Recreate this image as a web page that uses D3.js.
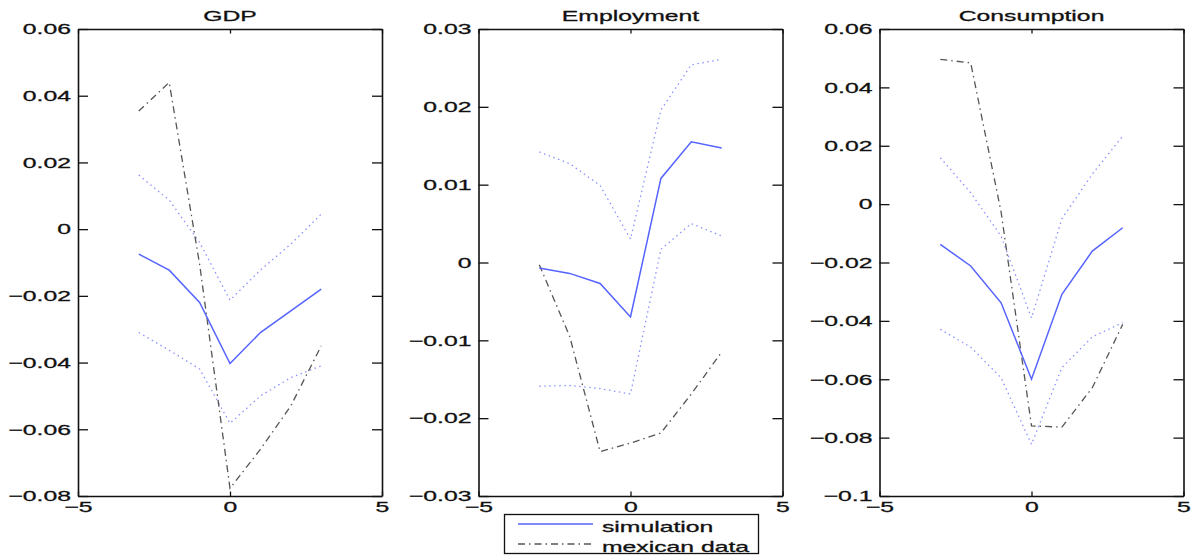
<!DOCTYPE html>
<html>
<head>
<meta charset="utf-8">
<script src="https://cdn.jsdelivr.net/npm/d3@7"></script>
<style>
  body { margin: 0; background: #fff; }
  svg { display: block; }
  text { font-family: "Liberation Sans", Arial, Helvetica, sans-serif; fill: #111; stroke: #111; stroke-width: 0.3px; }
  .axis path, .axis line { stroke: #111; }
</style>
</head>
<body>
<div id="chart"></div>
<script>
// horizon (quarters around the crisis)
const horizon = [-3, -2, -1, 0, 1, 2, 3];
const xTicks = [-5, 0, 5];

// GDP
const gdpSim = [-0.0075, -0.0123, -0.022, -0.0403, -0.031, -0.0245, -0.018];
const gdpUpper = [0.0162, 0.0087, -0.004, -0.0213, -0.0123, -0.0045, 0.0045];
const gdpLower = [-0.031, -0.0363, -0.0419, -0.0582, -0.050, -0.0445, -0.041];
const gdpMexico = [0.0354, 0.0440, -0.0105, -0.0777, -0.066, -0.053, -0.035];
const gdpTicks = [-0.08, -0.06, -0.04, -0.02, 0, 0.02, 0.04, 0.06];

// Employment
const empSim = [-0.0007, -0.0014, -0.0027, -0.007, 0.0108, 0.0155, 0.0147];
const empUpper = [0.0142, 0.0127, 0.0099, 0.003, 0.0196, 0.0254, 0.0261];
const empLower = [-0.0159, -0.0158, -0.0162, -0.0169, 0.0017, 0.005, 0.0034];
const empMexico = [-0.0003, -0.0095, -0.0243, -0.0232, -0.0219, -0.0169, -0.0115];
const empTicks = [-0.03, -0.02, -0.01, 0, 0.01, 0.02, 0.03];

// Consumption
const conSim = [-0.0138, -0.0212, -0.0338, -0.060, -0.0309, -0.0161, -0.0081];
const conUpper = [0.0159, 0.0039, -0.011, -0.039, -0.005, 0.0103, 0.0233];
const conLower = [-0.0429, -0.049, -0.0595, -0.0823, -0.056, -0.0455, -0.0406];
const conMexico = [0.0496, 0.0484, -0.0027, -0.076, -0.0764, -0.0629, -0.0412];
const conTicks = [-0.1, -0.08, -0.06, -0.04, -0.02, 0, 0.02, 0.04, 0.06];

const titles = ["GDP", "Employment", "Consumption"];
const legendLabels = ["simulation", "mexican data"];

const panels = [
  { title: titles[0], sim: gdpSim, up: gdpUpper, lo: gdpLower, mex: gdpMexico, ticks: gdpTicks },
  { title: titles[1], sim: empSim, up: empUpper, lo: empLower, mex: empMexico, ticks: empTicks },
  { title: titles[2], sim: conSim, up: conUpper, lo: conLower, mex: conMexico, ticks: conTicks }
];

const W = 1198, H = 555;
const lefts = [78, 478.5, 879.5];
const pw = 304, plotTop = 29, plotBottom = 496;
const stretch = 1.65;   // the source image was widened, text too
const fs = 15;

const blue = "#5563ff";
const fmt = v => v === 0 ? "0" : (v < 0 ? "\u2212" : "") + String(+Math.abs(v).toFixed(3));

const svg = d3.select("#chart").append("svg")
  .attr("width", W).attr("height", H);

panels.forEach((p, i) => {
  const x = d3.scaleLinear().domain([-5, 5]).range([lefts[i], lefts[i] + pw]);
  const y = d3.scaleLinear().domain(d3.extent(p.ticks)).range([plotBottom, plotTop]);

  const g = svg.append("g");

  const line = d3.line()
    .x((d, k) => x(horizon[k]))
    .y(d => y(d));

  // bands
  [p.up, p.lo].forEach(band => {
    g.append("path")
      .attr("d", line(band))
      .attr("fill", "none")
      .attr("stroke", "#8a93ff")
      .attr("stroke-width", 1.3)
      .attr("stroke-dasharray", "1.5,3.5");
  });

  // mexican data
  g.append("path")
    .attr("d", line(p.mex))
    .attr("fill", "none")
    .attr("stroke", "#555")
    .attr("stroke-width", 1.3)
    .attr("stroke-dasharray", "7,4,1.5,4");

  // simulation
  g.append("path")
    .attr("d", line(p.sim))
    .attr("fill", "none")
    .attr("stroke", blue)
    .attr("stroke-width", 1.5);

  // axes: ticks point inward
  const left = g.append("g").attr("class", "axis")
    .attr("transform", `translate(${lefts[i]},0)`)
    .call(d3.axisLeft(y).tickValues(p.ticks).tickFormat(fmt)
      .tickSizeInner(-10).tickSizeOuter(0).tickPadding(7 / stretch));
  const right = g.append("g").attr("class", "axis")
    .attr("transform", `translate(${lefts[i] + pw},0)`)
    .call(d3.axisRight(y).tickValues(p.ticks).tickFormat("")
      .tickSizeInner(-10).tickSizeOuter(0));
  const topAx = g.append("g").attr("class", "axis")
    .attr("transform", `translate(0,${plotTop})`)
    .call(d3.axisTop(x).tickValues(xTicks).tickFormat("")
      .tickSizeInner(-4.5).tickSizeOuter(0));
  const bot = g.append("g").attr("class", "axis")
    .attr("transform", `translate(0,${plotBottom})`)
    .call(d3.axisBottom(x).tickValues(xTicks).tickFormat(fmt)
      .tickSizeInner(-4.5).tickSizeOuter(0).tickPadding(5));

  [left, right, topAx, bot].forEach(a => {
    a.select(".domain").attr("stroke-width", 1.6);
    a.selectAll(".tick line").attr("stroke-width", 1.3);
    a.selectAll("text")
      .attr("font-size", fs)
      .attr("fill", "#111")
      .attr("transform", `scale(${stretch},1)`);
  });
  left.selectAll("text").attr("dy", "0.32em");

  g.append("text")
    .attr("transform", `translate(${lefts[i] + pw / 2},21) scale(${stretch},1)`)
    .attr("text-anchor", "middle")
    .attr("font-size", fs)
    .text(p.title);
});

// legend
const lg = svg.append("g");
lg.append("rect")
  .attr("x", 504.5).attr("y", 514.5)
  .attr("width", 254).attr("height", 39)
  .attr("fill", "#fff").attr("stroke", "#111").attr("stroke-width", 1.3);

const legendStyles = [
  { stroke: blue, dash: null, w: 1.5 },
  { stroke: "#555", dash: "7,4,1.5,4", w: 1.3 }
];
legendLabels.forEach((lab, k) => {
  const yy = 524 + k * 20;
  lg.append("line")
    .attr("x1", 518).attr("x2", 593)
    .attr("y1", yy).attr("y2", yy)
    .attr("stroke", legendStyles[k].stroke)
    .attr("stroke-width", legendStyles[k].w)
    .attr("stroke-dasharray", legendStyles[k].dash);
  lg.append("text")
    .attr("transform", `translate(602,${yy + 7.5}) scale(${stretch},1)`)
    .attr("font-size", fs)
    .text(lab);
});
</script>
</body>
</html>
